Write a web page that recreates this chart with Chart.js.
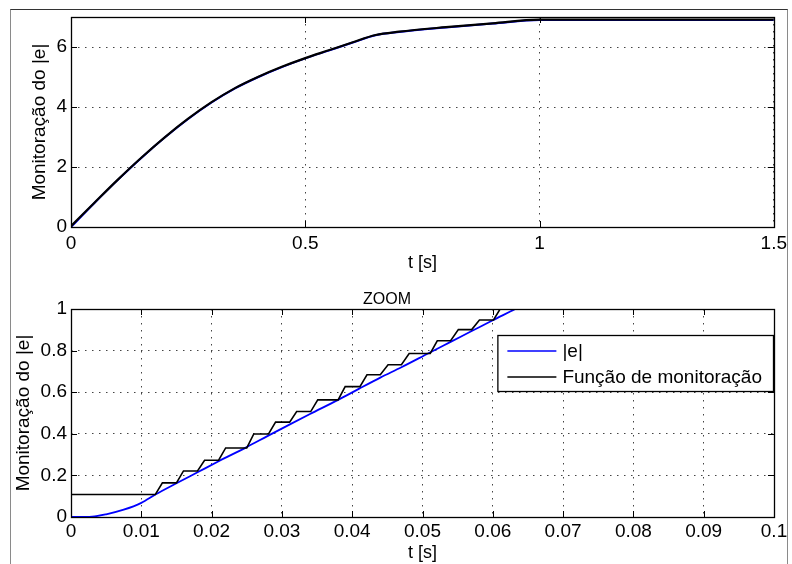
<!DOCTYPE html>
<html>
<head>
<meta charset="utf-8">
<script src="https://cdn.jsdelivr.net/npm/chart.js@4.4.0/dist/chart.umd.min.js"></script>
<style>
  body { margin: 0; background: #fff; width: 792px; height: 564px; overflow: hidden; position: relative; }
  #frame { position: absolute; left: 10px; top: 9px; width: 776px; height: 600px; border: 1px solid #8a8a8a; border-top-color: #333; }
  .wrap { position: absolute; left: 0; width: 792px; height: 282px; }
</style>
</head>
<body>
<div id="frame"></div>
<div class="wrap" style="top:0"><canvas id="topChart" width="792" height="282"></canvas></div>
<div class="wrap" style="top:282px"><canvas id="zoomChart" width="792" height="282"></canvas></div>
<script>
// top plot, 0..1.5 s
var topT   = [0, 0.05, 0.1, 0.15, 0.2, 0.25, 0.3, 0.35, 0.4, 0.45, 0.5, 0.55, 0.6, 0.65, 0.7, 0.8, 0.9, 1.0, 1.5];
var topE   = [0, 0.8, 1.57, 2.3, 2.98, 3.6, 4.15, 4.62, 5.0, 5.33, 5.62, 5.88, 6.14, 6.39, 6.5, 6.65, 6.78, 6.9, 6.9];
var topMon = [0.03, 0.81, 1.58, 2.31, 2.99, 3.61, 4.16, 4.63, 5.01, 5.34, 5.63, 5.89, 6.15, 6.4, 6.51, 6.66, 6.79, 6.91, 6.91];
var topXTicks = [0, 0.5, 1, 1.5];
var topYTicks = [0, 2, 4, 6];

// zoom plot, 0..0.1 s
var zoomT = [0, 0.003, 0.005, 0.0075, 0.01, 0.012, 0.015, 0.018, 0.021, 0.025, 0.028, 0.031, 0.034, 0.038, 0.041, 0.044, 0.047, 0.051, 0.054, 0.057, 0.060, 0.0632, 0.07];
var zoomE = [0, 0.002, 0.013, 0.035, 0.068, 0.108, 0.162, 0.215, 0.268, 0.336, 0.39, 0.443, 0.495, 0.563, 0.617, 0.67, 0.72, 0.79, 0.842, 0.894, 0.946, 1.0, 1.12];
var monT = [0, 0.012, 0.013, 0.015, 0.016, 0.018, 0.019, 0.021, 0.022, 0.025, 0.026, 0.0281, 0.0291, 0.0311, 0.0321, 0.0341, 0.0351, 0.038, 0.039, 0.0411, 0.0421, 0.044, 0.0451, 0.047, 0.0481, 0.0511, 0.0521, 0.054, 0.0551, 0.057, 0.0581, 0.0601, 0.0611, 0.0635, 0.0645];
var monV = [0.108, 0.108, 0.164, 0.164, 0.2215, 0.2215, 0.273, 0.273, 0.332, 0.332, 0.399, 0.399, 0.456, 0.456, 0.507, 0.507, 0.563, 0.563, 0.627, 0.627, 0.684, 0.684, 0.732, 0.732, 0.786, 0.786, 0.847, 0.847, 0.901, 0.901, 0.947, 0.947, 1.003, 1.003, 1.06];
var zoomXTicks = [0, 0.01, 0.02, 0.03, 0.04, 0.05, 0.06, 0.07, 0.08, 0.09, 0.1];
var zoomYTicks = [0, 0.2, 0.4, 0.6, 0.8, 1];

var FONT = "'Liberation Sans', Arial, Helvetica, sans-serif";

function pts(xs, ys) {
  return xs.map(function (x, i) { return { x: x, y: ys[i] }; });
}

// box around axes + inward ticks, like matlab
const matlabBox = {
  id: 'matlabBox',
  afterDatasetsDraw(chart) {
    const ctx = chart.ctx, a = chart.chartArea;
    const x = chart.scales.x, y = chart.scales.y;
    const tl = 6;
    ctx.save();
    ctx.strokeStyle = '#000';
    ctx.lineWidth = 1;
    ctx.beginPath();
    x.ticks.forEach(function (t) {
      const px = Math.round(x.getPixelForValue(t.value)) + 0.5;
      ctx.moveTo(px, a.bottom); ctx.lineTo(px, a.bottom - tl);
      ctx.moveTo(px, a.top); ctx.lineTo(px, a.top + tl);
    });
    y.ticks.forEach(function (t) {
      const py = Math.round(y.getPixelForValue(t.value)) + 0.5;
      ctx.moveTo(a.left, py); ctx.lineTo(a.left + tl, py);
      ctx.moveTo(a.right, py); ctx.lineTo(a.right - tl, py);
    });
    ctx.stroke();
    ctx.lineWidth = 1.3;
    ctx.strokeRect(Math.round(a.left) + 0.5, Math.round(a.top) + 0.5,
      Math.round(a.right - a.left), Math.round(a.bottom - a.top));
    ctx.restore();
  }
};

// legend box inside the axes (top right)
const boxLegend = {
  id: 'boxLegend',
  afterDraw(chart, args, opts) {
    if (!opts.show) return;
    const ctx = chart.ctx, a = chart.chartArea;
    const ds = chart.data.datasets;
    ctx.save();
    ctx.font = '19px ' + FONT;
    let tw = 0;
    ds.forEach(function (d) { tw = Math.max(tw, ctx.measureText(d.label).width); });
    const w = tw + 76, h = 56;
    const left = a.right - 1 - w, top = a.top + 26;
    ctx.fillStyle = '#fff';
    ctx.fillRect(left, top, w, h);
    ctx.strokeStyle = '#000';
    ctx.lineWidth = 1.3;
    ctx.strokeRect(left + 0.5, top + 0.5, w, h);
    ds.forEach(function (d, i) {
      const yy = top + 16 + i * 26;
      ctx.strokeStyle = d.borderColor;
      ctx.lineWidth = 1.5;
      ctx.beginPath();
      ctx.moveTo(left + 10, yy); ctx.lineTo(left + 59, yy);
      ctx.stroke();
      ctx.fillStyle = '#000';
      ctx.textBaseline = 'middle';
      ctx.fillText(d.label, left + 65, yy + 1);
    });
    ctx.restore();
  }
};

function axisOpts(min, max, tickArr, fit, title, titlePad, tickPad, horizontal) {
  return {
    type: 'linear',
    min: min,
    max: max,
    afterBuildTicks: function (s) { s.ticks = tickArr.map(function (v) { return { value: v }; }); },
    afterFit: function (s) { if (horizontal) s.height = fit; else s.width = fit; },
    ticks: {
      color: '#000',
      padding: tickPad,
      maxRotation: 0,
      autoSkip: false,
      font: { family: FONT, size: 19 },
      callback: function (v) { return String(v); }
    },
    grid: { color: '#444', lineWidth: 1, drawTicks: false },
    border: { display: false, dash: [1.5, 5.5] },
    title: {
      display: true,
      text: title,
      color: '#000',
      font: { family: FONT, size: horizontal ? 18 : 19 },
      padding: titlePad
    }
  };
}

// black (monitoring) is plotted after |e| so it sits on top: order 0 = drawn last
const topChart = new Chart(document.getElementById('topChart'), {
  type: 'scatter',
  data: {
    datasets: [{
      label: '|e|',
      data: pts(topT, topE),
      showLine: true,
      borderColor: '#0000ff',
      borderWidth: 2,
      pointRadius: 0,
      order: 1,
      cubicInterpolationMode: 'monotone'
    }, {
      label: 'Função de monitoração',
      data: pts(topT, topMon),
      showLine: true,
      borderColor: '#000',
      borderWidth: 2.2,
      pointRadius: 0,
      order: 0,
      cubicInterpolationMode: 'monotone'
    }]
  },
  options: {
    responsive: false,
    animation: false,
    layout: { padding: { top: 17, right: 17, left: 0, bottom: 0 } },
    plugins: { legend: { display: false }, tooltip: { enabled: false }, boxLegend: { show: false } },
    scales: {
      x: axisOpts(0, 1.5, topXTicks, 55, 't [s]', { top: 0, bottom: 8 }, 5, true),
      y: axisOpts(0, 7, topYTicks, 71, 'Monitoração do |e|', { top: 28, bottom: 0 }, 4, false)
    }
  },
  plugins: [matlabBox, boxLegend]
});

const zoomChart = new Chart(document.getElementById('zoomChart'), {
  type: 'scatter',
  data: {
    datasets: [{
      label: '|e|',
      data: pts(zoomT, zoomE),
      showLine: true,
      borderColor: '#0000ff',
      borderWidth: 1.8,
      pointRadius: 0,
      order: 1,
      cubicInterpolationMode: 'monotone'
    }, {
      label: 'Função de monitoração',
      data: pts(monT, monV),
      showLine: true,
      borderColor: '#000',
      borderWidth: 1.6,
      pointRadius: 0,
      order: 0,
      tension: 0
    }]
  },
  options: {
    responsive: false,
    animation: false,
    layout: { padding: { top: 0, right: 18, left: 0, bottom: 0 } },
    plugins: {
      legend: { display: false },
      tooltip: { enabled: false },
      title: {
        display: true,
        text: 'ZOOM',
        color: '#000',
        font: { family: FONT, size: 16, weight: 'normal', lineHeight: 1.125 },
        padding: { top: 9, bottom: 0 }
      },
      boxLegend: { show: true }
    },
    scales: {
      x: axisOpts(0, 0.1, zoomXTicks, 47, 't [s]', { top: 0, bottom: 0 }, 3, true),
      y: axisOpts(0, 1, zoomYTicks, 71, 'Monitoração do |e|', { top: 12, bottom: 0 }, 4, false)
    }
  },
  plugins: [matlabBox, boxLegend]
});
</script>
</body>
</html>
